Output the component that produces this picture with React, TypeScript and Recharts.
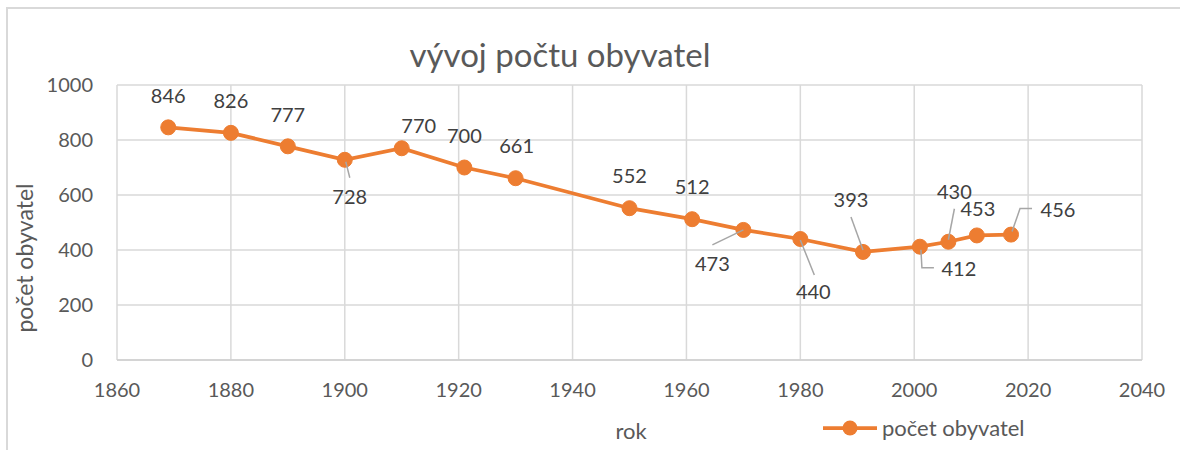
import React from 'react';
import { LineChart, Line, XAxis, YAxis, CartesianGrid } from 'recharts';

// census years and population
const years = [1869, 1880, 1890, 1900, 1910, 1921, 1930, 1950, 1961, 1970, 1980, 1991, 2001, 2006, 2011, 2017];
const population = [846, 826, 777, 728, 770, 700, 661, 552, 512, 473, 440, 393, 412, 430, 453, 456];

const xTicks = [1860, 1880, 1900, 1920, 1940, 1960, 1980, 2000, 2020, 2040];
const yTicks = [0, 200, 400, 600, 800, 1000];

const chartTitle = 'vývoj počtu obyvatel';
const xTitle = 'rok';
const yTitle = 'počet obyvatel';
const seriesName = 'počet obyvatel';

const data = years.map((rok, i) => ({ rok, pocet: population[i] }));

const ORANGE = '#ED7D31';
const GRID = '#d9d9d9';
const TEXT = '#595959';
const FONT = 'Lato, "Open Sans", sans-serif';

// where each data label sits relative to its point, plus leader lines (Excel-style)
type Placement = { dx: number; dy: number; leader?: [number, number][] };
const labelPlacement: Placement[] = [
  { dx: 0, dy: -31 },
  { dx: 0, dy: -32 },
  { dx: 0, dy: -31 },
  { dx: 5, dy: 37, leader: [[1, 2], [5, 18]] },
  { dx: 17, dy: -22 },
  { dx: 0, dy: -32 },
  { dx: 1, dy: -32 },
  { dx: 0, dy: -32 },
  { dx: 0, dy: -32 },
  { dx: -31, dy: 34, leader: [[0, 0], [-31, 15]] },
  { dx: 13, dy: 53, leader: [[0, 1], [14, 36]] },
  { dx: -12, dy: -52, leader: [[-12, -35], [0, -2]] },
  { dx: 39, dy: 22, leader: [[1, 3], [2, 21], [14, 21]] },
  { dx: 6, dy: -50, leader: [[6, -33], [0, -2]] },
  { dx: 1, dy: -26 },
  { dx: 47, dy: -25, leader: [[1, -3], [9, -26], [21, -26]] },
];

const renderPointLabel = (props: any) => {
  const { x, y, value, index } = props;
  const p = labelPlacement[index];
  if (!p) return null;
  return (
    <g key={`lbl-${index}`}>
      {p.leader && (
        <polyline
          points={p.leader.map(([a, b]) => `${x + a},${y + b}`).join(' ')}
          fill="none"
          stroke="#a6a6a6"
          strokeWidth={1.5}
        />
      )}
      <text
        x={x + p.dx}
        y={y + p.dy + 7}
        textAnchor="middle"
        fill="#404040"
        fontSize={20}
        fontFamily={FONT}
      >
        {value}
      </text>
    </g>
  );
};

const App: React.FC = () => {
  return (
    <div style={{ position: 'absolute', left: 0, top: 0, width: 1180, height: 450, background: '#fff', overflow: 'hidden', fontFamily: FONT }}>
      {/* chart frame (only left and top edges are visible in the crop) */}
      <div style={{ position: 'absolute', left: 6, top: 7, right: -10, bottom: -10, borderLeft: `2px solid ${GRID}`, borderTop: `2px solid ${GRID}` }} />

      <LineChart
        width={1180}
        height={450}
        data={data}
        margin={{ top: 85, right: 38, bottom: 60, left: 0 }}
        style={{ position: 'absolute', left: 0, top: 0 }}
      >
        <CartesianGrid stroke={GRID} strokeWidth={1.5} />
        <XAxis
          dataKey="rok"
          type="number"
          domain={[1860, 2040]}
          ticks={xTicks}
          height={30}
          tickLine={false}
          axisLine={{ stroke: '#cfcfcf', strokeWidth: 1.5 }}
          tickMargin={17}
          tick={{ fill: TEXT, fontSize: 20, fontFamily: FONT }}
        />
        <YAxis
          type="number"
          domain={[0, 1000]}
          ticks={yTicks}
          width={117}
          tickLine={false}
          axisLine={false}
          tickMargin={18}
          tick={{ fill: TEXT, fontSize: 20, fontFamily: FONT }}
        />
        <Line
          type="linear"
          dataKey="pocet"
          name={seriesName}
          stroke={ORANGE}
          strokeWidth={3.75}
          dot={{ r: 7.5, fill: ORANGE, stroke: ORANGE, strokeWidth: 1 }}
          activeDot={false}
          label={renderPointLabel}
          isAnimationActive={false}
        />
      </LineChart>

      {/* title */}
      <div style={{ position: 'absolute', left: 310, top: 38, width: 500, textAlign: 'center', fontSize: 33, lineHeight: 1, color: TEXT }}>
        {chartTitle}
      </div>

      {/* y axis title */}
      <div
        style={{
          position: 'absolute', left: 24 - 100, top: 258 - 13, width: 200, height: 26,
          lineHeight: '26px', fontSize: 23, textAlign: 'center', color: TEXT,
          transform: 'rotate(-90deg)',
        }}
      >
        {yTitle}
      </div>

      {/* x axis title */}
      <div style={{ position: 'absolute', left: 581, top: 420, width: 100, textAlign: 'center', fontSize: 22, lineHeight: 1, color: TEXT }}>
        {xTitle}
      </div>

      {/* legend */}
      <div style={{ position: 'absolute', left: 822, top: 415, height: 26, display: 'flex', alignItems: 'center', color: TEXT, fontSize: 22, lineHeight: 1 }}>
        <svg width={56} height={26} style={{ display: 'block' }}>
          <line x1={1} y1={13} x2={55} y2={13} stroke={ORANGE} strokeWidth={3.75} />
          <circle cx={28} cy={13} r={7.5} fill={ORANGE} />
        </svg>
        <span style={{ marginLeft: 4 }}>{seriesName}</span>
      </div>
    </div>
  );
};

export default App;
